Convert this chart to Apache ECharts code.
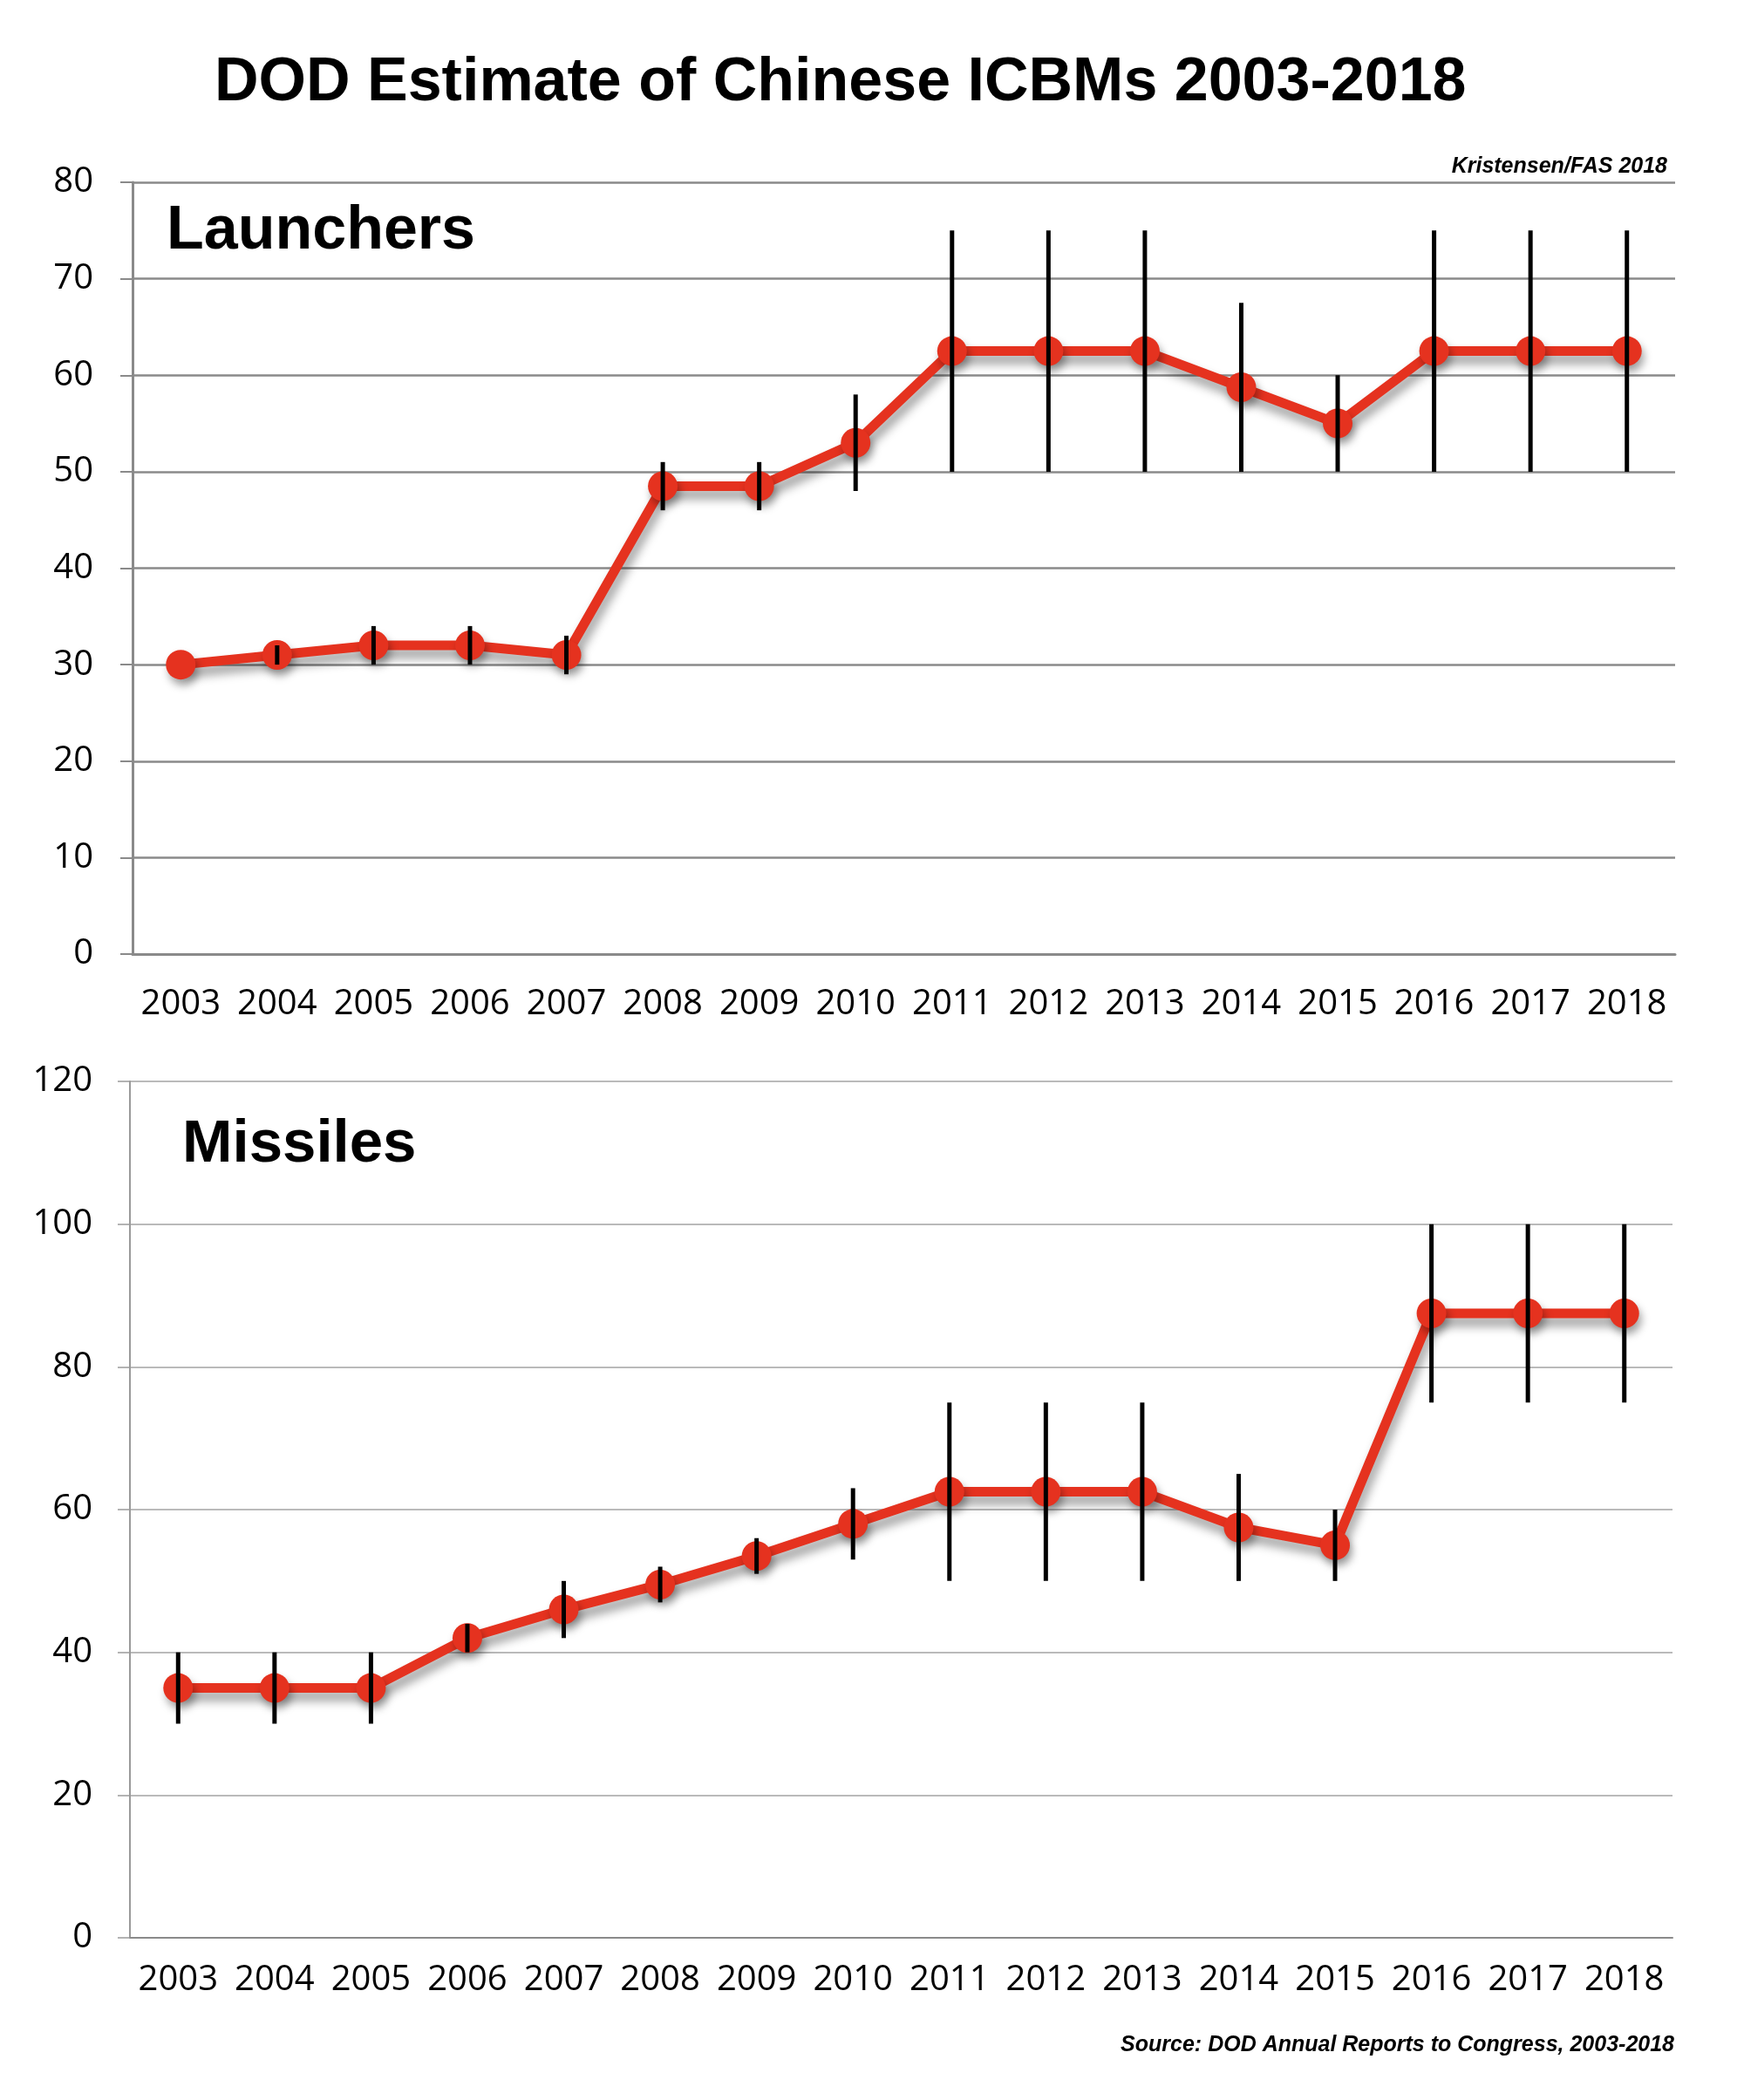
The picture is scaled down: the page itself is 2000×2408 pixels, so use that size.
<!DOCTYPE html>
<html>
<head>
<meta charset="utf-8">
<title>DOD Estimate of Chinese ICBMs 2003-2018</title>
<script src="https://cdn.jsdelivr.net/npm/echarts@6/dist/echarts.min.js"></script>
<style>
  html, body { margin: 0; padding: 0; background: #fff; }
  #chart { width: 2000px; height: 2408px; }
</style>
</head>
<body>
<div id="chart"></div>
<script>
const years = ['2003', '2004', '2005', '2006', '2007', '2008', '2009', '2010',
  '2011', '2012', '2013', '2014', '2015', '2016', '2017', '2018'];

// Launchers: estimate (midpoint) and DOD low/high range
const launchers = [30, 31, 32, 32, 31, 48.5, 48.5, 53, 62.5, 62.5, 62.5, 58.75, 55, 62.5, 62.5, 62.5];
const launcherLow = [null, 30, 30, 30, 29, 46, 46, 48, 50, 50, 50, 50, 50, 50, 50, 50];
const launcherHigh = [null, 32, 34, 34, 33, 51, 51, 58, 75, 75, 75, 67.5, 60, 75, 75, 75];

// Missiles
const missiles = [35, 35, 35, 42, 46, 49.5, 53.5, 58, 62.5, 62.5, 62.5, 57.5, 55, 87.5, 87.5, 87.5];
const missileLow = [30, 30, 30, 40, 42, 47, 51, 53, 50, 50, 50, 50, 50, 75, 75, 75];
const missileHigh = [40, 40, 40, 44, 50, 52, 56, 63, 75, 75, 75, 65, 60, 100, 100, 100];

const RED = '#e5321f';
const AXIS_FONT = '"Open Sans", "Noto Sans", sans-serif';
const BOLD_FONT = '"Liberation Sans", Arial, sans-serif';

const chart = echarts.init(document.getElementById('chart'));

const rangeData = (low, high) => low.map((l, i) => (l == null ? [i, '-', '-'] : [i, l, high[i]]));

const renderBar = function (params, api) {
  const lo = api.value(1);
  const hi = api.value(2);
  if (isNaN(lo) || isNaN(hi)) return null;
  const p1 = api.coord([api.value(0), lo]);
  const p2 = api.coord([api.value(0), hi]);
  return {
    type: 'line',
    shape: { x1: p1[0], y1: p1[1], x2: p2[0], y2: p2[1] },
    style: { stroke: '#000', lineWidth: 5 }
  };
};

const lineSeries = (data, xi, yi) => ({
  type: 'line',
  xAxisIndex: xi,
  yAxisIndex: yi,
  data: data,
  symbol: 'circle',
  symbolSize: 34,
  z: 3,
  lineStyle: {
    color: RED, width: 11,
    shadowColor: 'rgba(0,0,0,0.4)', shadowBlur: 12, shadowOffsetX: 3, shadowOffsetY: 9
  },
  itemStyle: {
    color: RED,
    shadowColor: 'rgba(0,0,0,0.35)', shadowBlur: 10, shadowOffsetX: 3, shadowOffsetY: 7
  },
  animation: false
});

const option = {
  backgroundColor: '#fff',
  animation: false,
  grid: [
    { left: 152, right: 79, top: 209, height: 885 },
    { left: 149, right: 82, top: 1240, height: 982 }
  ],
  xAxis: [
    {
      type: 'category', gridIndex: 0, data: years, boundaryGap: true,
      axisLine: { lineStyle: { color: '#8a8a8a', width: 3 } },
      axisTick: { alignWithLabel: true, interval: 0, length: 11, lineStyle: { color: '#8a8a8a', width: 2 } },
      axisLabel: { color: '#000', fontFamily: AXIS_FONT, fontSize: 40, margin: 38, interval: 0 }
    },
    {
      type: 'category', gridIndex: 1, data: years, boundaryGap: true,
      axisLine: { lineStyle: { color: '#8a8a8a', width: 2 } },
      axisTick: { alignWithLabel: true, interval: 0, length: 11, lineStyle: { color: '#8a8a8a', width: 2 } },
      axisLabel: { color: '#000', fontFamily: AXIS_FONT, fontSize: 40, margin: 29, interval: 0 }
    },
    {
      // boundary ticks pointing up on the lower chart
      type: 'category', gridIndex: 1, data: years, boundaryGap: true, position: 'bottom',
      axisLine: { show: false },
      axisTick: { inside: true, interval: 0, length: 14, lineStyle: { color: '#8a8a8a', width: 2 } },
      axisLabel: { show: false }
    }
  ],
  yAxis: [
    {
      type: 'value', gridIndex: 0, min: 0, max: 80, interval: 10,
      axisLine: { show: true, lineStyle: { color: '#8a8a8a', width: 3 } },
      axisTick: { show: true, length: 14, lineStyle: { color: '#8a8a8a', width: 2 } },
      splitLine: { lineStyle: { color: '#8a8a8a', width: 2.5 } },
      axisLabel: { color: '#000', fontFamily: AXIS_FONT, fontSize: 40, margin: 45 }
    },
    {
      type: 'value', gridIndex: 1, min: 0, max: 120, interval: 20,
      axisLine: { show: true, lineStyle: { color: '#9a9a9a', width: 2 } },
      axisTick: { show: true, length: 14, lineStyle: { color: '#9a9a9a', width: 1.5 } },
      splitLine: { lineStyle: { color: '#a3a3a3', width: 1.5 } },
      axisLabel: { color: '#000', fontFamily: AXIS_FONT, fontSize: 40, margin: 43 }
    }
  ],
  graphic: [
    {
      type: 'text', x: 246, y: 96,
      style: { text: 'DOD Estimate of Chinese ICBMs 2003-2018', fill: '#000', align: 'left',
        verticalAlign: 'middle', font: 'bold 70px ' + BOLD_FONT }
    },
    {
      type: 'text', x: 1912, y: 191,
      style: { text: 'Kristensen/FAS 2018', fill: '#000', align: 'right', verticalAlign: 'middle',
        font: 'italic bold 25px ' + BOLD_FONT }
    },
    {
      type: 'text', x: 191, y: 266,
      style: { text: 'Launchers', fill: '#000', align: 'left', verticalAlign: 'middle',
        font: 'bold 70px ' + BOLD_FONT }
    },
    {
      type: 'text', x: 209, y: 1313,
      style: { text: 'Missiles', fill: '#000', align: 'left', verticalAlign: 'middle',
        font: 'bold 69px ' + BOLD_FONT }
    },
    {
      type: 'text', x: 1920, y: 2345,
      style: { text: 'Source: DOD Annual Reports to Congress, 2003-2018', fill: '#000',
        align: 'right', verticalAlign: 'middle', font: 'italic bold 25px ' + BOLD_FONT }
    }
  ],
  series: [
    lineSeries(launchers, 0, 0),
    {
      type: 'custom', xAxisIndex: 0, yAxisIndex: 0, z: 5,
      renderItem: renderBar, encode: { x: 0, y: [1, 2] },
      data: rangeData(launcherLow, launcherHigh)
    },
    lineSeries(missiles, 1, 1),
    {
      type: 'custom', xAxisIndex: 1, yAxisIndex: 1, z: 5,
      renderItem: renderBar, encode: { x: 0, y: [1, 2] },
      data: rangeData(missileLow, missileHigh)
    }
  ]
};

chart.setOption(option);
window.addEventListener('resize', () => chart.resize());
</script>
</body>
</html>
